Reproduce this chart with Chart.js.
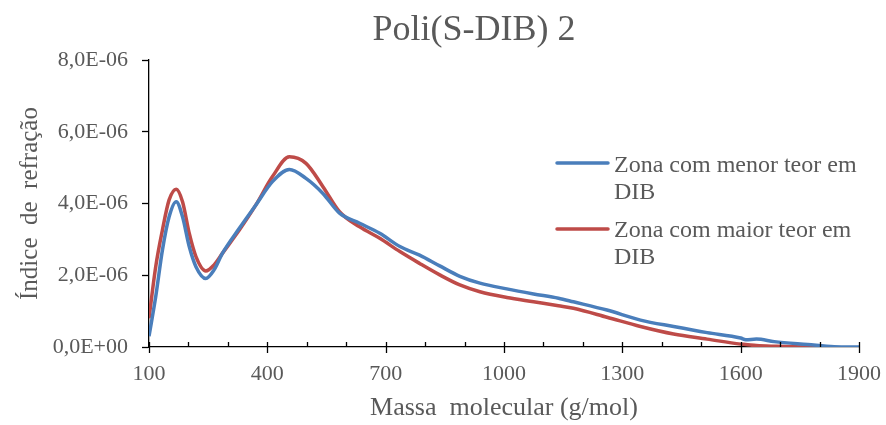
<!DOCTYPE html>
<html>
<head>
<meta charset="utf-8">
<script src="https://cdn.jsdelivr.net/npm/chart.js@4/dist/chart.umd.min.js"></script>
<style>
  html, body { margin: 0; padding: 0; background: #fff; }
  #wrap { width: 886px; height: 425px; }
</style>
</head>
<body>
<div id="wrap"><canvas id="gpc"></canvas></div>
<script>
// massa molecular (g/mol)
var massa = [100, 117, 134, 151, 169, 185, 202, 219, 244, 265, 286, 329, 371, 413, 456, 498, 541, 583,
  634, 685, 736, 786, 837, 888, 939, 1007, 1075, 1138, 1176, 1261, 1346, 1430, 1515, 1600, 1613, 1640,
  1685, 1770, 1837, 1900];
// indice de refracao, em unidades de 1E-06
var menorDIB = [0.30, 1.40, 2.70, 3.63, 4.05, 3.63, 2.80, 2.24, 1.91, 2.15, 2.61, 3.31, 3.96, 4.61, 4.95, 4.70, 4.28, 3.73,
  3.45, 3.17, 2.80, 2.56, 2.26, 1.97, 1.78, 1.62, 1.48, 1.36, 1.26, 1.03, 0.75, 0.57, 0.40, 0.25, 0.20, 0.22,
  0.15, 0.07, 0.01, 0.00];
var maiorDIB = [0.80, 2.24, 3.26, 4.10, 4.40, 4.05, 3.17, 2.52, 2.12, 2.29, 2.61, 3.26, 3.96, 4.75, 5.30, 5.12, 4.47, 3.77,
  3.35, 3.03, 2.66, 2.33, 2.01, 1.73, 1.54, 1.38, 1.26, 1.15, 1.08, 0.83, 0.57, 0.36, 0.22, 0.08, 0.07, 0.04,
  0.02, 0.00, 0.00, null];
var seriesNames = [["Zona com menor teor em", "DIB"], ["Zona com maior teor em", "DIB"]];
var seriesColors = ["#4A7EBB", "#BE4B48"];
var xTickLabels = [100, 400, 700, 1000, 1300, 1600, 1900];

var txt = "#595959";
var serif = "'Liberation Serif', 'Times New Roman', serif";

function pts(arr) {
  return massa.map(function (m, i) {
    return { x: m, y: arr[i] == null ? null : arr[i] * 1e-6 };
  });
}

function sci(v) {
  if (Math.abs(v) < 1e-12) return "0,0E+00";
  var p = v.toExponential(1).split("e");
  var e = parseInt(p[1], 10);
  var a = Math.abs(e);
  return p[0].replace(".", ",") + "E" + (e < 0 ? "-" : "+") + (a < 10 ? "0" : "") + a;
}

var extras = {
  id: "extras",
  afterDraw: function (chart) {
    var ctx = chart.ctx;
    var xs = chart.scales.x;
    var yb = chart.chartArea.bottom;
    ctx.save();
    // x tick marks: major ones cross the axis, minor ones only inside
    ctx.strokeStyle = "#000";
    ctx.lineWidth = 1.3;
    xs.ticks.forEach(function (t) {
      var px = Math.round(xs.getPixelForValue(t.value)) + 0.5;
      var major = xTickLabels.indexOf(t.value) >= 0;
      ctx.beginPath();
      ctx.moveTo(px, yb - 5);
      ctx.lineTo(px, major ? yb + 6 : yb);
      ctx.stroke();
    });
    // title
    ctx.fillStyle = txt;
    ctx.textAlign = "center";
    ctx.textBaseline = "alphabetic";
    ctx.font = "36px " + serif;
    ctx.fillText("Poli(S-DIB) 2", 474, 40);
    // legend
    var lineY = [163, 229];
    var baseY = [172, 237];
    ctx.textAlign = "left";
    ctx.font = "24px " + serif;
    seriesNames.forEach(function (lines, i) {
      ctx.strokeStyle = seriesColors[i];
      ctx.lineWidth = 3.5;
      ctx.lineCap = "round";
      ctx.beginPath();
      ctx.moveTo(557, lineY[i]);
      ctx.lineTo(608, lineY[i]);
      ctx.stroke();
      lines.forEach(function (l, k) {
        ctx.fillText(l, 614, baseY[i] + k * 26.5);
      });
    });
    ctx.restore();
  }
};

new Chart(document.getElementById("gpc"), {
  type: "line",
  data: {
    datasets: [
      {
        label: seriesNames[0].join(" "),
        data: pts(menorDIB),
        borderColor: seriesColors[0],
        borderWidth: 3.5,
        pointRadius: 0,
        cubicInterpolationMode: "monotone",
        spanGaps: false
      },
      {
        label: seriesNames[1].join(" "),
        data: pts(maiorDIB),
        borderColor: seriesColors[1],
        borderWidth: 3.5,
        pointRadius: 0,
        cubicInterpolationMode: "monotone",
        spanGaps: false
      }
    ]
  },
  options: {
    responsive: true,
    maintainAspectRatio: false,
    animation: false,
    layout: { padding: { top: 60, right: 27, left: 0, bottom: 0 } },
    plugins: {
      legend: { display: false },
      title: { display: false },
      tooltip: { enabled: false }
    },
    scales: {
      x: {
        type: "linear",
        min: 100,
        max: 1900,
        border: { color: "#000", width: 1.3 },
        grid: { drawOnChartArea: false, drawTicks: false },
        ticks: {
          stepSize: 100,
          autoSkip: false,
          maxRotation: 0,
          padding: 14,
          color: txt,
          font: { family: serif, size: 22 },
          callback: function (v) { return xTickLabels.indexOf(v) >= 0 ? String(v) : ""; }
        },
        title: {
          display: true,
          text: "Massa  molecular (g/mol)",
          color: txt,
          font: { family: serif, size: 26 },
          padding: { top: 0, bottom: 1 }
        },
        afterFit: function (s) {
          s.height = 78;
          s.paddingLeft = 0;
          s.paddingRight = 0;
        }
      },
      y: {
        min: 0,
        max: 8e-6,
        border: { color: "#000", width: 1.3 },
        grid: { drawOnChartArea: false, tickLength: 7, color: "#000", tickWidth: 1.3 },
        ticks: {
          stepSize: 2e-6,
          padding: 14,
          color: txt,
          font: { family: serif, size: 22 },
          callback: function (v) { return sci(v); }
        },
        title: {
          display: true,
          text: "Índice  de  refração",
          color: txt,
          font: { family: serif, size: 25 },
          padding: { top: 15, bottom: 0 }
        },
        afterFit: function (s) { s.width = 149; }
      }
    }
  },
  plugins: [extras]
});
</script>
</body>
</html>
